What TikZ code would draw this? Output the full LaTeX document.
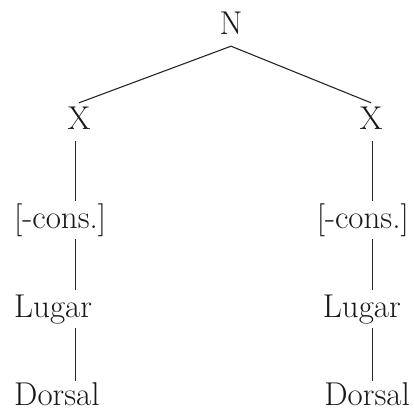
\documentclass[tikz,border=0pt]{standalone}
\begin{document}
\begin{tikzpicture}[x=1pt,y=-1pt,
  lbl/.style={inner xsep=0pt,inner ysep=4pt,text height=23pt,text depth=7pt,
    font=\fontsize{33}{40}\selectfont,text=black!90},
  lowlbl/.style={lbl,text depth=0pt,inner ysep=2pt},
  edge/.style={draw=black!85,line width=1.1pt}]
\useasboundingbox (0,0) rectangle (413,414);
% top
\node[lbl,anchor=base] (n) at (231,35) {N};
\node[lbl,anchor=base] (xl) at (79,130) {X};
\node[lbl,anchor=base] (xr) at (371,130) {X};
% left column
\node[lbl,anchor=base west] (cl) at (14,228) {[-cons.]};
\node[lbl,anchor=base west] (ll) at (14,317) {Lugar};
\node[lowlbl,anchor=base west] (dl) at (14,405) {Dorsal};
% right column
\node[lbl,anchor=base east] (cr) at (409,228) {[-cons.]};
\node[lbl,anchor=base east] (lr) at (401,317) {Lugar};
\node[lowlbl,anchor=base east] (dr) at (410,405) {Dorsal};
% stem positions
\coordinate (sl) at (75.5,0);
\coordinate (sr) at (372.5,0);
% connectors
\draw[edge] (n.south) -- (xl.north);
\draw[edge] (n.south) -- (xr.north);
\draw[edge] (xl.south -| sl) -- (cl.north -| sl);
\draw[edge] (cl.south -| sl) -- (ll.north -| sl);
\draw[edge] (ll.south -| sl) -- ([yshift=-1pt]dl.north -| sl);
\draw[edge] (xr.south -| sr) -- (cr.north -| sr);
\draw[edge] (cr.south -| sr) -- (lr.north -| sr);
\draw[edge] (lr.south -| sr) -- ([yshift=-1pt]dr.north -| sr);
\end{tikzpicture}
\end{document}
